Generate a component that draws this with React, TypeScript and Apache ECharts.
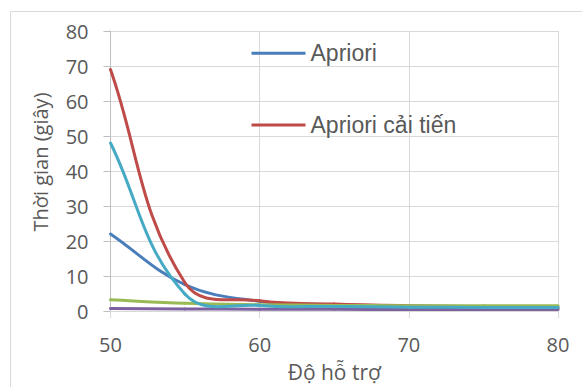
import React, { useEffect, useRef } from "react";
import * as echarts from "echarts";

const supports = [50, 55, 60, 65, 70, 75, 80];
const aprioriTime = [22, 7.5, 2.8, 1.8, 1.3, 1.0, 0.8];
const improvedTime = [69, 8, 2.9, 2.0, 1.5, 1.2, 1.0];
const series3Time = [3.2, 2.2, 1.8, 1.6, 1.5, 1.5, 1.5];
const series4Time = [0.7, 0.6, 0.5, 0.5, 0.4, 0.4, 0.4];
const series5Time = [48, 4.8, 1.6, 1.3, 1.1, 1.0, 1.0];
const yTicks = { min: 0, max: 80, interval: 10 };
const xTicks = { min: 50, max: 80, interval: 10 };

const pairs = (ys: number[]) => supports.map((x, i) => [x, ys[i]]);

// Excel-like smooth segment drawn through ECharts' own coordinate system
const makeRender = (ys: number[], color: string) => (params: any, api: any) => {
  const i = params.dataIndex;
  const n = supports.length;
  if (i >= n - 1) return null;
  const P = (k: number) => {
    const kk = Math.max(0, Math.min(n - 1, k));
    return api.coord([supports[kk], ys[kk]]) as number[];
  };
  const p0 = P(i - 1), p1 = P(i), p2 = P(i + 1), p3 = P(i + 2);
  const segLen = Math.hypot(p2[0] - p1[0], p2[1] - p1[1]);
  const k = 0.38;
  const tangent = (a: number[], b: number[]) => {
    const dx = b[0] - a[0], dy = b[1] - a[1];
    const l = Math.hypot(dx, dy) || 1;
    return [dx / l, dy / l];
  };
  const t1 = tangent(p0, p2);
  const t2 = tangent(p1, p3);
  const c1 = [p1[0] + t1[0] * segLen * k, p1[1] + t1[1] * segLen * k];
  const c2 = [p2[0] - t2[0] * segLen * k, p2[1] - t2[1] * segLen * k];
  return {
    type: "bezierCurve",
    shape: {
      x1: p1[0], y1: p1[1], x2: p2[0], y2: p2[1],
      cpx1: c1[0], cpy1: c1[1], cpx2: c2[0], cpy2: c2[1],
    },
    style: { stroke: color, lineWidth: 3, fill: null, lineCap: "round" },
  };
};

export default function App() {
  const ref = useRef<HTMLDivElement>(null);
  useEffect(() => {
    if (!ref.current) return;
    const chart = echarts.init(ref.current, undefined, { renderer: "svg" });
    const lbl = "#595959";
    const mk = (name: string, data: number[], color: string) => ({
      name,
      type: "custom",
      data: pairs(data),
      encode: { x: 0, y: 1 },
      renderItem: makeRender(data, color),
      itemStyle: { color },
      clip: false,
    });
    chart.setOption({
      animation: false,
      backgroundColor: "#ffffff",
      graphic: [
        {
          type: "rect",
          shape: { x: 10.5, y: 11.5, width: 700, height: 500 },
          style: { fill: "none", stroke: "#D9D9D9", lineWidth: 1 },
          silent: true,
        },
        {
          type: "text",
          x: 40,
          y: 162,
          rotation: Math.PI / 2,
          style: {
            text: "Thời gian (giây)",
            fontFamily: "Open Sans",
            fontSize: 20,
            fill: lbl,
            align: "center",
            verticalAlign: "middle",
          },
          silent: true,
        },
      ],
      grid: { left: 110.5, right: 24, top: 31, bottom: 72, containLabel: false },
      legend: {
        data: ["Apriori", "Apriori cải tiến"],
        orient: "vertical",
        left: 251.5,
        top: 41.3,
        padding: 0,
        itemGap: 47.7,
        itemWidth: 54,
        itemHeight: 3,
        icon: "rect",
        textStyle: {
          fontFamily: "Liberation Sans",
          fontSize: 23,
          lineHeight: 24,
          color: lbl,
        },
      },
      xAxis: {
        type: "value",
        min: xTicks.min,
        max: xTicks.max,
        interval: xTicks.interval,
        name: "Độ hỗ trợ",
        nameLocation: "middle",
        nameGap: 50,
        nameTextStyle: { fontFamily: "Open Sans", fontSize: 21, color: lbl },
        axisLine: { show: true, lineStyle: { color: "#D9D9D9", width: 1 } },
        axisTick: { show: true, length: 7, lineStyle: { color: "#D9D9D9" } },
        axisLabel: { margin: 23, fontFamily: "Open Sans", fontSize: 20, color: lbl },
        splitLine: { show: true, lineStyle: { color: "#D9D9D9", width: 1 } },
      },
      yAxis: {
        type: "value",
        min: yTicks.min,
        max: yTicks.max,
        interval: yTicks.interval,
        axisLine: { show: true, lineStyle: { color: "#BFBFBF", width: 1 } },
        axisTick: { show: true, length: 7, lineStyle: { color: "#BFBFBF" } },
        axisLabel: { margin: 22, fontFamily: "Open Sans", fontSize: 20, color: lbl },
        splitLine: { show: true, lineStyle: { color: "#D9D9D9", width: 1 } },
      },
      series: [
        mk("Apriori", aprioriTime, "#4A7EBB"),
        mk("Apriori cải tiến", improvedTime, "#BE4B48"),
        mk("Chuỗi 3", series3Time, "#98B954"),
        mk("Chuỗi 4", series4Time, "#7D60A0"),
        mk("Chuỗi 5", series5Time, "#46AAC5"),
      ],
    });
    return () => chart.dispose();
  }, []);
  return (
    <div
      ref={ref}
      style={{ position: "fixed", left: 0, top: 0, width: 582, height: 387 }}
    />
  );
}
